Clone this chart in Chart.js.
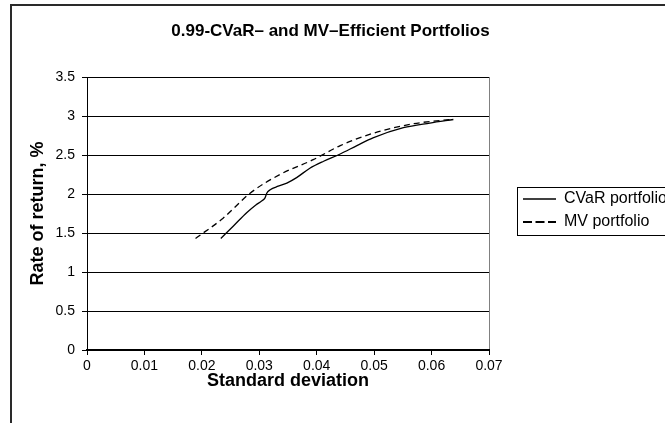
<!DOCTYPE html>
<html>
<head>
<meta charset="utf-8">
<script src="https://cdn.jsdelivr.net/npm/chart.js@4"></script>
<style>
  html, body { margin: 0; padding: 0; background: #fff; overflow: hidden; }
  #frame { position: absolute; left: 10px; top: 4px; width: 676px; height: 440px; border: 2px solid #2a2a2a; }
  canvas { display: block; }
</style>
</head>
<body>
<div id="frame"><canvas id="chart" width="676" height="440"></canvas></div>
<script>
const FONT = "'Liberation Sans', Arial, sans-serif";

// CVaR EFFICIENT FRONTIER
const cvarStd = [0.0233, 0.0255, 0.0278, 0.0294, 0.0304, 0.0310, 0.0313, 0.0319, 0.0333, 0.0348,
                 0.0365, 0.0388, 0.0412, 0.0440, 0.0470, 0.0498, 0.0551, 0.0597, 0.0638];
const cvarRet = [1.43, 1.59, 1.76, 1.86, 1.91, 1.95, 2.01, 2.055, 2.10, 2.14,
                 2.21, 2.33, 2.42, 2.51, 2.62, 2.72, 2.85, 2.91, 2.955];

// MV EFFICIENT FRONTIER
const mvStd = [0.0189, 0.0237, 0.0284, 0.0336, 0.0394, 0.0441, 0.0499, 0.0568, 0.0638];
const mvRet = [1.43, 1.69, 2.01, 2.25, 2.44, 2.62, 2.78, 2.90, 2.96];

const seriesNames = ['CVaR portfolio', 'MV portfolio'];
const xTicks = [0, 0.01, 0.02, 0.03, 0.04, 0.05, 0.06, 0.07];
const xTickLabels = ['0', '0.01', '0.02', '0.03', '0.04', '0.05', '0.06', '0.07'];
const yTicks = [0, 0.5, 1, 1.5, 2, 2.5, 3, 3.5];
const yTickLabels = ['0', '0.5', '1', '1.5', '2', '2.5', '3', '3.5'];

const toPoints = (xs, ys) => xs.map((x, i) => ({ x: x, y: ys[i] }));

// legend sits a bit off the plot, with a thin frame round it
const legendFrame = {
    id: 'legendFrame',
    afterLayout(chart) {
        const lg = chart.legend, ca = chart.chartArea;
        const pad = lg.options.labels.padding;
        const left = ca.right + 27;
        const top = (ca.top + ca.bottom) / 2 - 22.5 - pad;
        lg.left = left; lg.right = left + lg.width;
        lg.top = top; lg.bottom = top + lg.height;
    },
    afterDraw(chart) {
        const lg = chart.legend;
        const pad = lg.options.labels.padding;
        const ctx = chart.ctx;
        ctx.save();
        ctx.strokeStyle = '#000';
        ctx.lineWidth = 1;
        ctx.setLineDash([]);
        ctx.strokeRect(Math.round(lg.left + pad - 6) + 0.5, Math.round(lg.top + pad - 4) + 0.5, chart.width, 48);
        ctx.restore();
    }
};

const lineData = {
    datasets: [{
        label: seriesNames[0],
        data: toPoints(cvarStd, cvarRet),
        borderColor: '#000',
        borderWidth: 1.3,
        pointRadius: 0,
        cubicInterpolationMode: 'monotone',
        fill: false
    }, {
        label: seriesNames[1],
        data: toPoints(mvStd, mvRet),
        borderColor: '#000',
        borderWidth: 1.3,
        borderDash: [6, 4],
        pointRadius: 0,
        cubicInterpolationMode: 'monotone',
        fill: false
    }]
};

const lineConfig = {
    type: 'line',
    data: lineData,
    options: {
        responsive: false,
        animation: false,
        layout: { padding: { left: 0, top: 0, bottom: 0, right: 39 } },
        scales: {
            x: {
                type: 'linear',
                min: 0,
                max: 0.07,
                afterBuildTicks: s => { s.ticks = xTicks.map(v => ({ value: v })); },
                afterFit: s => { s.height = 96; },
                ticks: {
                    color: '#000',
                    padding: 3,
                    font: { family: FONT, size: 14 },
                    callback: (v, i) => xTickLabels[i]
                },
                grid: {
                    drawOnChartArea: true,
                    color: c => (c.tick && c.tick.value === xTicks[xTicks.length - 1]) ? '#808080' : 'rgba(0,0,0,0)',
                    tickColor: '#000',
                    tickLength: 5
                },
                border: { color: '#000', width: 2 },
                title: {
                    display: true,
                    text: 'Standard deviation',
                    color: '#000',
                    font: { family: FONT, size: 18, weight: 'bold' },
                    padding: { top: 0, bottom: 54 }
                }
            },
            y: {
                min: 0,
                max: 3.5,
                afterBuildTicks: s => { s.ticks = yTicks.map(v => ({ value: v })); },
                afterFit: s => { s.width = 75; },
                ticks: {
                    color: '#000',
                    padding: 7,
                    font: { family: FONT, size: 14 },
                    callback: (v, i) => yTickLabels[i]
                },
                grid: {
                    color: '#000',
                    tickColor: '#000',
                    tickLength: 5
                },
                border: { color: '#000', width: 1 },
                title: {
                    display: true,
                    text: 'Rate of return, %',
                    color: '#000',
                    font: { family: FONT, size: 18, weight: 'bold' },
                    padding: { top: 15, bottom: 0 }
                }
            }
        },
        plugins: {
            title: {
                display: true,
                text: '0.99-CVaR\u2013 and MV\u2013Efficient Portfolios',
                color: '#000',
                font: { family: FONT, size: 17, weight: 'bold' },
                padding: { top: 15, bottom: 35.6 }
            },
            legend: {
                position: 'right',
                align: 'start',
                maxWidth: 160,
                labels: {
                    usePointStyle: true,
                    pointStyleWidth: 33,
                    padding: 7,
                    color: '#000',
                    font: { family: FONT, size: 16 },
                    generateLabels: chart => chart.data.datasets.map((ds, i) => ({
                        text: ds.label,
                        fillStyle: 'rgba(0,0,0,0)',
                        strokeStyle: ds.borderColor,
                        lineWidth: ds.borderDash ? 2 : ds.borderWidth,
                        lineDash: ds.borderDash ? [9, 3.5] : [],
                        pointStyle: 'line',
                        fontColor: '#000',
                        hidden: false,
                        datasetIndex: i
                    }))
                }
            },
            tooltip: { enabled: false }
        }
    },
    plugins: [legendFrame]
};

let lineChart = new Chart(
    document.getElementById('chart'),
    lineConfig
);
</script>
</body>
</html>
